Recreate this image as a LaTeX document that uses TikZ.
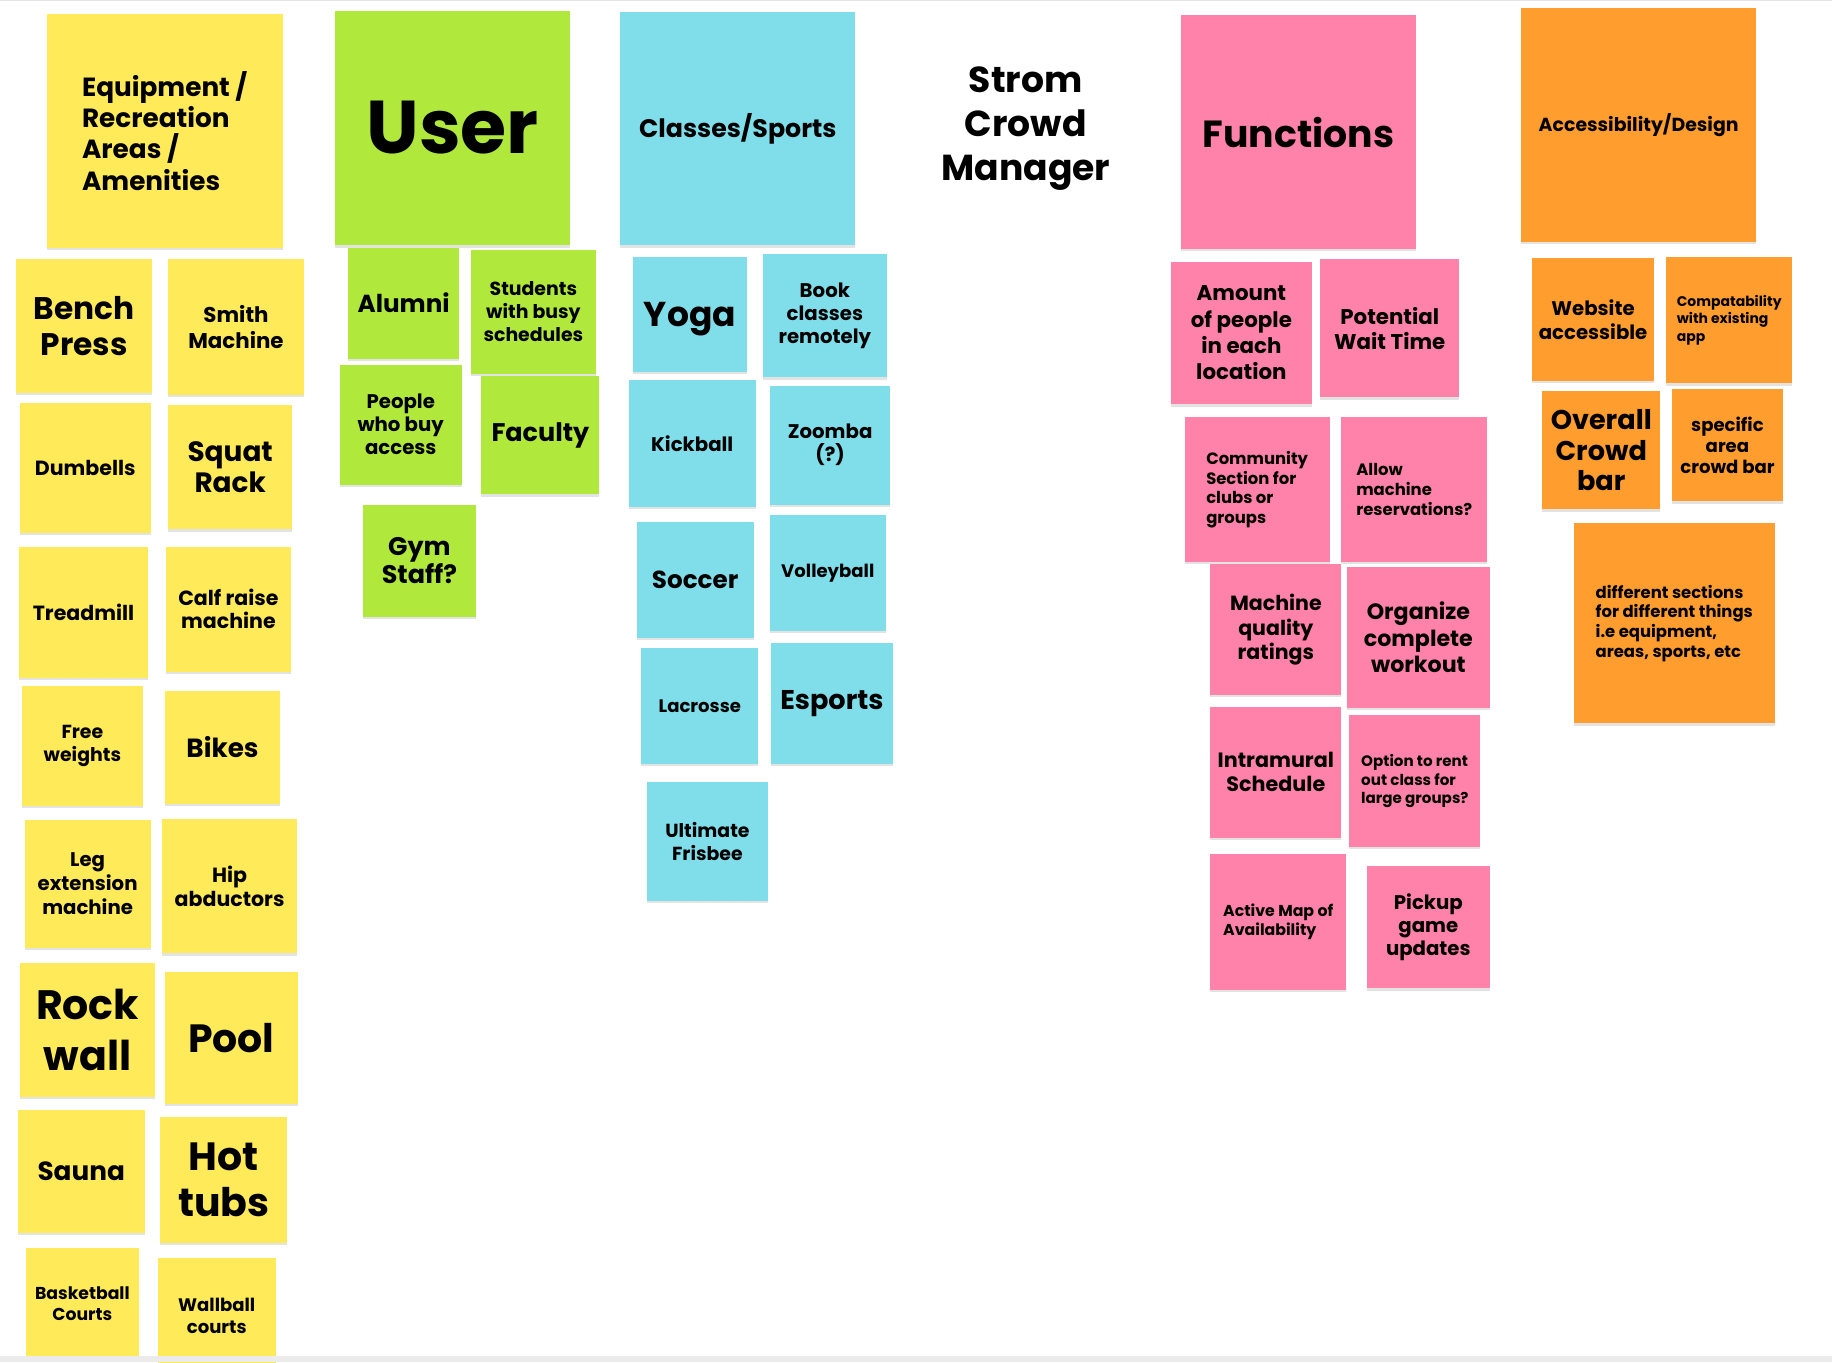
\documentclass[tikz,border=0pt]{standalone}
\usepackage{fontspec}
\setmainfont{Poppins}
\usetikzlibrary{shadows}

\definecolor{stickyYellow}{HTML}{FFEA5A}
\definecolor{stickyGreen}{HTML}{B0E93C}
\definecolor{stickyBlue}{HTML}{80DEEA}
\definecolor{stickyPink}{HTML}{FF82AA}
\definecolor{stickyOrange}{HTML}{FF9E2F}

\begin{document}
\begin{tikzpicture}[
  x=0.025cm, y=-0.025cm,
  font=\bfseries,
  note/.style={
    anchor=north west, inner sep=0pt, outer sep=0pt, align=center,
    drop shadow={opacity=0.22, shadow xshift=0pt, shadow yshift=-1.4pt}
  },
  noteEquip/.style={note, fill=stickyYellow},
  noteUser/.style={note, fill=stickyGreen},
  noteSport/.style={note, fill=stickyBlue},
  noteFunc/.style={note, fill=stickyPink},
  noteDesign/.style={note, fill=stickyOrange},
  box/.style 2 args={minimum width=#1*0.025cm, minimum height=#2*0.025cm},
  lbl/.style 2 args={font=\fontsize{#1}{#2}\selectfont\bfseries}
]
\useasboundingbox (0,0) rectangle (1568,1166);
\draw[black!10, line width=0.8pt] (0,0.5) -- (1568,0.5);

% equipment / recreation areas
\node[noteEquip, box={202}{200}, lbl={16}{19}, align=left] (equip) at (40,12)
  {Equipment /\\Recreation\\Areas /\\Amenities};
\node[noteEquip, box={116}{114}, lbl={19}{22}] (bench) at (14,222) {Bench\\Press};
\node[noteEquip, box={116}{116}, lbl={13}{15.5}] (smith) at (144,222) {Smith\\Machine};
\node[noteEquip, box={112}{111}, lbl={12.5}{15}] (dumb) at (17,345) {Dumbells};
\node[noteEquip, box={106}{106}, lbl={17}{19}] (squat) at (144,347) {Squat\\Rack};
\node[noteEquip, box={111}{112}, lbl={12.5}{15}] (tread) at (16,468) {Treadmill};
\node[noteEquip, box={107}{107}, lbl={12.5}{14}] (calf) at (142,468) {Calf raise\\machine};
\node[noteEquip, box={103}{103}, lbl={11.5}{14}] (free) at (19,587) {Free\\weights};
\node[noteEquip, box={99}{97}, lbl={16}{19}] (bikes) at (141,591) {Bikes};
\node[noteEquip, box={108}{109}, lbl={12}{14.6}] (leg) at (21,702) {Leg\\extension\\machine};
\node[noteEquip, box={115}{115}, lbl={12.5}{15}] (hip) at (139,701) {Hip\\abductors};
\node[noteEquip, box={116}{115}, lbl={25}{30.5}] (rock) at (17,824) {Rock\\wall};
\node[noteEquip, box={114}{113}, lbl={24}{28}] (pool) at (141,832) {Pool};
\node[noteEquip, box={109}{105}, lbl={16}{19}] (sauna) at (15,950) {Sauna};
\node[noteEquip, box={109}{108}, lbl={24}{28}] (hottub) at (137,956) {Hot\\tubs};
\node[noteEquip, box={97}{96}, lbl={10.5}{13}] (basket) at (22,1068) {Basketball\\Courts};
\node[noteEquip, box={101}{98}, lbl={11}{13.5}] (wallball) at (135,1077) {Wallball\\courts};

% users
\node[noteUser, box={201}{201}, lbl={45.5}{50}] (user) at (287,9) {User};
\node[noteUser, box={95}{95}, lbl={15}{18}] (alumni) at (298,212) {Alumni};
\node[noteUser, box={107}{106}, lbl={11.5}{14}] (students) at (403,214) {Students\\with busy\\schedules};
\node[noteUser, box={104}{103}, lbl={12}{14}] (buyers) at (291,312) {People\\who buy\\access};
\node[noteUser, box={101}{101}, lbl={15.5}{18}] (faculty) at (412,322) {Faculty};
\node[noteUser, box={96}{96}, lbl={15.5}{17}] (staff) at (311,432) {Gym\\Staff?};

% classes / sports
\node[noteSport, box={201}{200}, lbl={15.4}{18}] (sports) at (531,10) {Classes/Sports};
\node[noteSport, box={97}{98}, lbl={21}{24}, text depth=0pt] (yoga) at (542,220) {Yoga};
\node[noteSport, box={106}{106}, lbl={12}{14}] (book) at (653,217) {Book\\classes\\remotely};
\node[noteSport, box={109}{109}, lbl={12}{14}] (kickball) at (538,325) {Kickball};
\node[noteSport, box={103}{102}, lbl={12}{14}] (zoomba) at (659,330) {Zoomba\\(?)};
\node[noteSport, box={100}{99}, lbl={15}{18}] (soccer) at (545,447) {Soccer};
\node[noteSport, box={99}{99}, lbl={11}{14}] (volley) at (659,441) {Volleyball};
\node[noteSport, box={100}{99}, lbl={11}{14}] (lacrosse) at (549,555) {Lacrosse};
\node[noteSport, box={104}{104}, lbl={16.5}{19}] (esports) at (660,550) {Esports};
\node[noteSport, box={103}{102}, lbl={11.5}{14}] (frisbee) at (554,669) {Ultimate\\Frisbee};

% title
\node[lbl={22}{26.7}, align=center, inner sep=0pt] (title) at (878,110) {Strom\\Crowd\\Manager};

% functions
\node[noteFunc, box={201}{200}, lbl={23}{26}] (functions) at (1011,13) {Functions};
\node[noteFunc, box={121}{122}, lbl={13}{16}] (amount) at (1002,224) {Amount\\of people\\in each\\location};
\node[noteFunc, box={119}{118}, lbl={13}{15}] (wait) at (1130,222) {Potential\\Wait Time};
\node[noteFunc, box={124}{124}, lbl={10}{12}, align=left] (community) at (1014,357)
  {Community\\Section for\\clubs or\\groups};
\node[noteFunc, box={125}{124}, lbl={10}{12}, align=left] (reserve) at (1148,357)
  {Allow\\machine\\reservations?};
\node[noteFunc, box={112}{112}, lbl={12.5}{15}] (quality) at (1036,483) {Machine\\quality\\ratings};
\node[noteFunc, box={122}{121}, lbl={13.5}{16.3}] (workout) at (1153,485) {Organize\\complete\\workout};
\node[noteFunc, box={112}{112}, lbl={12.6}{14.5}] (intramural) at (1036,605) {Intramural\\Schedule};
\node[noteFunc, box={112}{113}, lbl={9.2}{11.4}, align=left] (rent) at (1155,612)
  {Option to rent\\out class for\\large groups?};
\node[noteFunc, box={116}{116}, lbl={9.6}{11.6}, align=left] (map) at (1036,731)
  {Active Map of\\Availability};
\node[noteFunc, box={105}{105}, lbl={12}{14.2}] (pickup) at (1170,741) {Pickup\\game\\updates};

% accessibility / design
\node[noteDesign, box={201}{200}, lbl={11.5}{14}] (design) at (1302,7) {Accessibility/Design};
\node[noteDesign, box={105}{105}, lbl={12}{14.2}] (website) at (1311,221) {Website\\accessible};
\node[noteDesign, box={108}{108}, lbl={8.5}{10.7}, align=left] (compat) at (1426,220)
  {Compatability\\with existing\\app};
\node[noteDesign, box={101}{101}, lbl={16.5}{18.5}] (overall) at (1320,335) {Overall\\Crowd\\bar};
\node[noteDesign, box={95}{96}, lbl={11}{12.8}] (specific) at (1431,333) {specific\\area\\crowd bar};
\node[noteDesign, box={172}{171}, lbl={10}{11.9}, align=left] (sections) at (1347,448)
  {different sections\\for different things\\i.e equipment,\\areas, sports, etc};

% board edge
\fill[black!8] (0,1161) rectangle (1568,1166);
\end{tikzpicture}
\end{document}
